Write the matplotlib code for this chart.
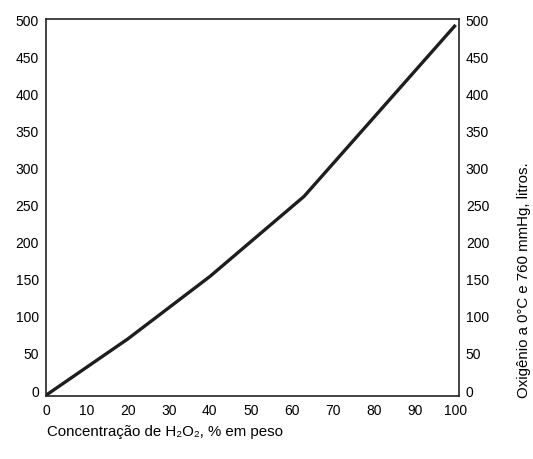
import matplotlib
matplotlib.use('Agg')
import matplotlib.pyplot as plt
from matplotlib import font_manager

# font: condensed sans if present, fallback DejaVu for odd glyphs
names = [f.name for f in font_manager.fontManager.ttflist]
base = 'Liberation Sans Narrow' if 'Liberation Sans Narrow' in names else 'Liberation Sans'
plt.rcParams['font.family'] = [base, 'DejaVu Sans']

## data
conc = [0, 20, 40, 63, 100]          # % H2O2 em peso
oxig = [-7, 69, 153, 261, 492]       # litros O2
xticks = [0, 10, 20, 30, 40, 50, 60, 70, 80, 90, 100]
yticks = [0, 50, 100, 150, 200, 250, 300, 350, 400, 450, 500]

fig = plt.figure(figsize=(5.33, 4.60), dpi=100)
ax = fig.add_axes([0.0863, 0.137, 0.7747, 0.8195])

ax.plot(conc, oxig, color='#1e1e1e', lw=2.4, solid_capstyle='butt')

ax.set_xlim(0, 100.8)
ax.set_ylim(-8, 500)
ax.set_xticks(xticks)
ax.set_yticks(yticks)
ax.tick_params(length=0, labelsize=10, pad=5)
ax.tick_params(axis='y', labelright=True, right=False)
for s in ax.spines.values():
    s.set_linewidth(1.2)
    s.set_color('#222222')

fig.text(0.088, 0.061, 'Concentração de H₂O₂, % em peso', fontsize=10.8, ha='left', va='center')
fig.text(0.983, 0.39, 'Oxigênio a 0°C e 760 mmHg, litros.', fontsize=10.8,
         rotation=90, ha='center', va='center')

plt.savefig('out.png', dpi=100)
plt.close()
